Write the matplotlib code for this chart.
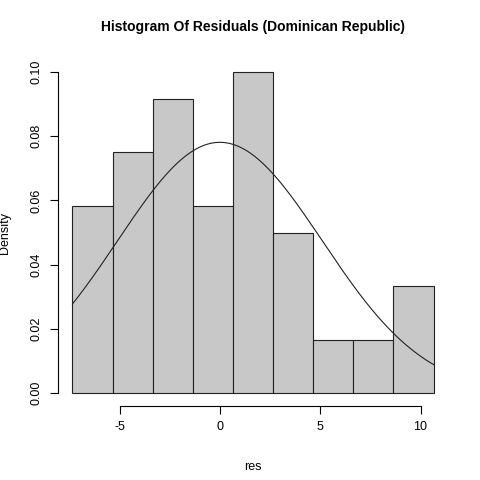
import numpy as np
import matplotlib
matplotlib.use("Agg")
import matplotlib.pyplot as plt

plt.rcParams['font.family'] = ['Liberation Sans', 'DejaVu Sans']

edges = [-7.35, -5.35, -3.35, -1.35, 0.65, 2.65, 4.65, 6.65, 8.65, 10.65]
counts = [7, 9, 11, 7, 12, 6, 2, 2, 4]
mu, sd = 0.0, 5.11
xticks = [-5, 0, 5, 10]
yticks = [0.00, 0.02, 0.04, 0.06, 0.08, 0.10]

n = sum(counts)
w = np.diff(edges)
dens = np.array(counts) / (n * w)

fig = plt.figure(figsize=(4.8, 4.8), dpi=100)
ax = fig.add_axes([58/480, 1-406/480, (448-58)/480, (406-59)/480])
ax.bar(edges[:-1], dens, width=w, align='edge', color='#c8c8c8', edgecolor='#222222', linewidth=0.8)
xs = np.linspace(edges[0], edges[-1], 300)
ax.plot(xs, np.exp(-0.5*((xs-mu)/sd)**2)/(sd*np.sqrt(2*np.pi)), color='#222222', linewidth=0.8)
r = edges[-1]-edges[0]
ax.set_xlim(edges[0]-0.04*r, edges[-1]+0.04*r)
top = dens.max()
ax.set_ylim(-0.04*top, top*1.04)
for s in ax.spines.values():
    s.set_visible(False)
ax.set_xticks(xticks)
ax.set_xticklabels([str(t) for t in xticks])
ax.set_yticks(yticks)
ax.set_yticklabels([f"{t:.2f}" for t in yticks], rotation=90, va='center')
ax.plot([xticks[0], xticks[-1]], [-0.04*top]*2, color='black', lw=0.8, clip_on=False)
ax.plot([edges[0]-0.04*r]*2, [yticks[0], yticks[-1]], color='black', lw=0.8, clip_on=False)
ax.tick_params(length=6, labelsize=9, pad=5)
ax.set_xlabel("res", fontsize=9, labelpad=20)
ax.set_ylabel("Density", fontsize=9, labelpad=14)
ax.set_title("Histogram Of Residuals (Dominican Republic)", fontsize=10, fontweight='bold', pad=20)
fig.savefig("out.png", dpi=100)
